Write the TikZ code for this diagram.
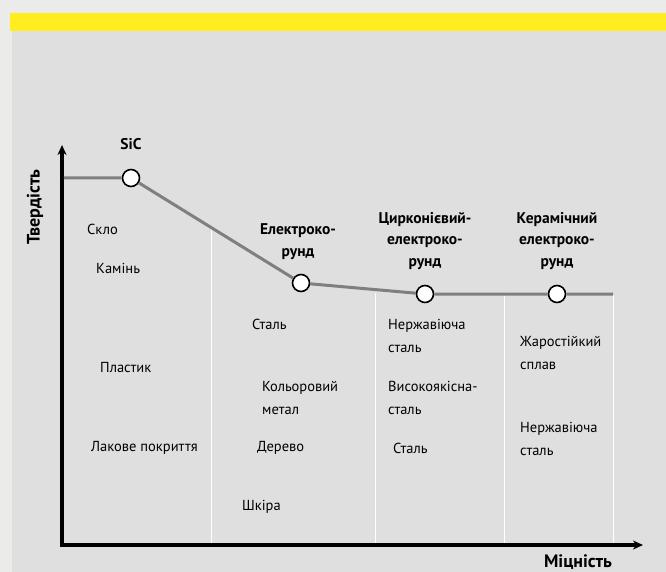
\documentclass[tikz,border=0pt]{standalone}
\usepackage{fontspec}
\setmainfont{PT Sans}
\usetikzlibrary{arrows.meta,positioning}

\definecolor{outerbg}{HTML}{EBEBE9}
\definecolor{panelbg}{HTML}{DFDFDF}
\definecolor{topbar}{HTML}{FFED1F}
\definecolor{curvegrey}{HTML}{7F7F7F}

\tikzset{
  axis/.style={line width=3.5pt, {Stealth[length=10pt,width=9pt]}-{Stealth[length=10pt,width=9pt]}},
  curveline/.style={draw=curvegrey, line width=3pt},
  point/.style={circle, draw=black, fill=white, line width=1.6pt, minimum size=17pt, inner sep=0pt},
  divider/.style={draw=white, line width=1pt},
  grade/.style={font=\bfseries\fontsize{15.5}{21.5}\selectfont, align=center, inner sep=0pt},
  material/.style={font=\fontsize{14.5}{23}\selectfont, align=left, anchor=west, inner sep=0pt},
  axislabel/.style={font=\bfseries\fontsize{18}{20}\selectfont, inner sep=0pt}
}

\begin{document}
\begin{tikzpicture}[x=1pt, y=-1pt]
    % Hintergrund
    \useasboundingbox (0,0) rectangle (666,572);
    \fill[outerbg] (0,0) rectangle (666,572);
    \fill[panelbg] (12,31) rectangle (666,572);
    \fill[topbar] (10,13) rectangle (666,31);

    % Trennlinien
    \foreach \x/\y in {211/228, 375/293, 504/295, 613/295}
        \draw[divider] (\x,\y) -- (\x,544);

    % Achsen
    \coordinate (origin) at (62,545);
    \coordinate (ytop) at (62,145);
    \coordinate (xend) at (643,545);
    \draw[axis] (ytop) -- (origin) -- (xend);
    \node[axislabel, rotate=90] (hardness) at (35,207) {Твердість};
    \node[axislabel] (strength) at (578,562) {Міцність};

    % Punkte
    \node (sic) [point] at (131,178) {};
    \node (corund) [point] at (301,283) {};
    \node (zircon) [point] at (425,294) {};
    \node (ceramic) [point] at (557,294) {};

    % Kurve
    \coordinate (cstart) at (63.75,178);
    \coordinate (cend) at (613,294);
    \draw[curveline] (cstart) -- (sic) -- (corund) -- (zircon) -- (ceramic) -- (cend);

    % Schleifmittel
    \node (lsic) [grade, above=19pt of sic] {SiC};
    \node (lcorund) [grade, above=14pt of corund, xshift=-3pt] {Електроко-\\рунд};
    \node (lzircon) [grade, above=15pt of zircon] {Цирконієвий-\\електроко-\\рунд};
    \node (lceramic) [grade, above=15pt of ceramic] {Керамічний\\електроко-\\рунд};

    % Werkstoffe
    \node (glass) [material] at (87,229) {Скло};
    \node (stone) [material] at (96,268) {Камінь};
    \node (plastic) [material] at (100,368) {Пластик};
    \node (lacquer) [material] at (91,448) {Лакове покриття};

    \node (steel1) [material] at (252,324) {Сталь};
    \node (nonferrous) [material] at (262,398) {Кольоровий\\метал};
    \node (wood) [material] at (257,448) {Дерево};
    \node (leather) [material] at (242,507) {Шкіра};

    \node (stainless1) [material] at (388,336) {Нержавіюча\\сталь};
    \node (highgrade) [material] at (388,398) {Високоякісна-\\сталь};
    \node (steel2) [material] at (393,448) {Сталь};

    \node (heatres) [material] at (520,353) {Жаростійкий\\сплав};
    \node (stainless2) [material] at (520,439) {Нержавіюча\\сталь};
\end{tikzpicture}
\end{document}
